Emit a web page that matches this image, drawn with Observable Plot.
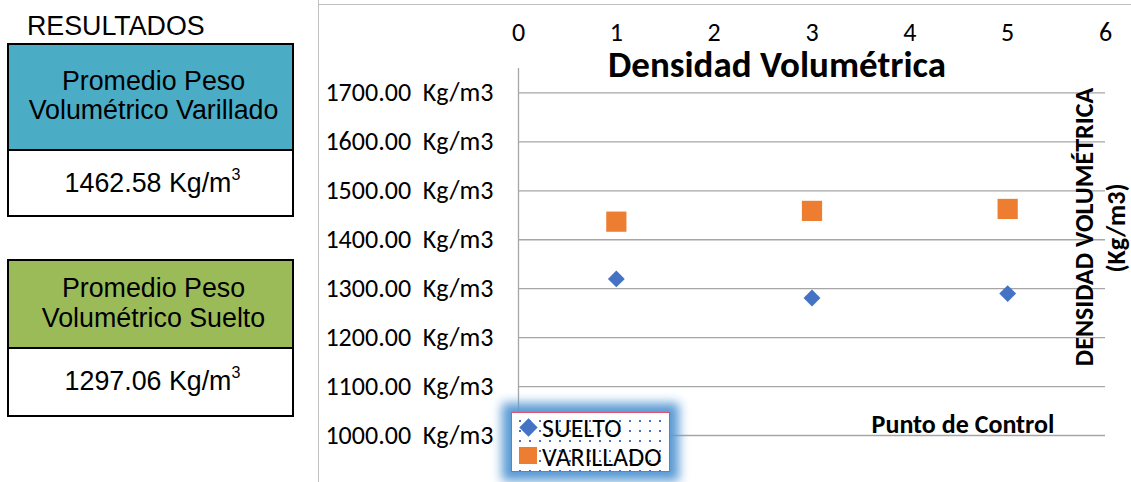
<!DOCTYPE html>
<html>
<head>
<meta charset="utf-8">
<script src="https://cdn.jsdelivr.net/npm/d3@7"></script>
<script src="https://cdn.jsdelivr.net/npm/@observablehq/plot@0.6"></script>
<style>
  html, body { margin:0; padding:0; background:#fff; }
  #page { position:relative; width:1131px; height:482px; overflow:hidden; background:#fff; }
  .abs { position:absolute; }
  .lp { font-family:"Liberation Sans", Arial, sans-serif; font-size:26.8px; color:#000; }
  .box { box-sizing:border-box; border:2px solid #000; }
  .ctr { text-align:center; line-height:29px; white-space:nowrap; }
  sup { font-size:0.6em; line-height:0; vertical-align:0.72em; }
  .cal { font-family:Carlito, Calibri, Lato, sans-serif; }
  #legend { left:511px; top:412px; width:159px; height:60px; box-sizing:border-box;
    border:1.5px solid #e0506a; background-color:#fff;
    background-image:radial-gradient(circle, #4472c4 0.9px, transparent 1.3px);
    background-size:10px 10px; background-position:3px 3px;
    box-shadow:0 0 10px 9px #5b9bd5; }
  #legend .t { position:absolute; font-size:26px; line-height:26px; color:#000; }
</style>
</head>
<body>
<div id="page">
  <div class="abs" style="left:318px;top:0;width:0;height:482px;border-left:1.5px solid #c0c0c0"></div>
  <div class="abs" style="left:318px;top:4px;width:813px;height:0;border-top:1.5px solid #c0c0c0"></div>
  <div id="chart" class="abs" style="left:0;top:0"></div>

  <div class="abs lp" style="left:27px;top:12px;line-height:29px">RESULTADOS</div>

  <div class="abs box" style="left:7px;top:43px;width:287px;height:108px;background:#4bacc6"></div>
  <div class="abs box" style="left:7px;top:149px;width:287px;height:68px;background:#fff"></div>
  <div class="abs lp ctr" style="left:10px;width:287px;top:67px">Promedio Peso</div>
  <div class="abs lp ctr" style="left:10px;width:287px;top:96px">Volumétrico Varillado</div>
  <div class="abs lp ctr" style="left:9px;width:287px;top:169px">1462.58 Kg/m<sup>3</sup></div>

  <div class="abs box" style="left:7px;top:259px;width:287px;height:90px;background:#9bbb59"></div>
  <div class="abs box" style="left:7px;top:347px;width:287px;height:70px;background:#fff"></div>
  <div class="abs lp ctr" style="left:10px;width:287px;top:274px">Promedio Peso</div>
  <div class="abs lp ctr" style="left:10px;width:287px;top:304px">Volumétrico Suelto</div>
  <div class="abs lp ctr" style="left:9px;width:287px;top:367px">1297.06 Kg/m<sup>3</sup></div>

  <div id="legend" class="abs cal">
    <div class="abs" style="left:10px;top:8px;width:13px;height:13px;background:#4472c4;transform:rotate(45deg)"></div>
    <div class="t" style="left:30px;top:2px">SUELTO</div>
    <div class="abs" style="left:7px;top:34px;width:18px;height:17px;background:#ed7d31"></div>
    <div class="t" style="left:30px;top:31px">VARILLADO</div>
  </div>
</div>
<script>
const xTicks = [0, 1, 2, 3, 4, 5, 6];
const yTicks = [1000, 1100, 1200, 1300, 1400, 1500, 1600, 1700];
const puntos = [1, 3, 5];
const suelto = [1320, 1281, 1290];
const varillado = [1437, 1459, 1463];
const titulo = "Densidad Volumétrica";
const tituloX = "Punto de Control";
const tituloY = "DENSIDAD VOLUMÉTRICA";
const unidadY = "(Kg/m3)";

const font = "Carlito, Calibri, Lato, sans-serif";

const chart = Plot.plot({
  width: 1131,
  height: 482,
  marginLeft: 518,
  marginRight: 26,
  marginTop: 68,
  marginBottom: 47,
  x: {domain: [0, 6], label: null},
  y: {domain: [1000, 1750], label: null},
  style: {fontFamily: font, fontSize: "26px", color: "#000", background: "transparent", overflow: "visible"},
  marks: [
    Plot.gridY(yTicks, {stroke: "#a6a6a6", strokeOpacity: 1, strokeWidth: 1.3}),
    Plot.ruleX([0], {y1: 1000, y2: 1750, stroke: "#a6a6a6", strokeWidth: 1.3}),
    Plot.axisX(xTicks, {anchor: "top", tickSize: 0, tickPadding: 28, fontSize: 26, tickFormat: d => String(d), label: null}),
    Plot.axisY(yTicks, {anchor: "left", tickSize: 0, tickPadding: 25, fontSize: 26, tickFormat: d => d.toFixed(2) + "\u00a0\u00a0Kg/m3", label: null}),
    Plot.dot(puntos, {x: d => d, y: (d, i) => varillado[i], symbol: "square", r: 11.4, fill: "#ed7d31", stroke: null}),
    Plot.dot(puntos, {x: d => d, y: (d, i) => suelto[i], symbol: "diamond2", r: 7.6, fill: "#4472c4", stroke: null}),
    Plot.text([titulo], {text: d => d, frameAnchor: "top", textAnchor: "middle", dx: -35, dy: -3, fontSize: 37, fontWeight: "bold", lineAnchor: "middle"}),
    Plot.text([tituloX], {text: d => d, frameAnchor: "bottom", textAnchor: "middle", dx: 151, dy: -11, fontSize: 26, fontWeight: "bold", lineAnchor: "middle"}),
    Plot.text([tituloY], {text: d => d, frameAnchor: "right", textAnchor: "middle", rotate: -90, dx: -21, dy: -25, fontSize: 26, fontWeight: "bold", lineAnchor: "middle"}),
    Plot.text([unidadY], {text: d => d, frameAnchor: "right", textAnchor: "middle", rotate: -90, dx: 11, dy: -24, fontSize: 26, fontWeight: "bold", lineAnchor: "middle"})
  ]
});
document.getElementById("chart").appendChild(chart);
</script>
</body>
</html>
